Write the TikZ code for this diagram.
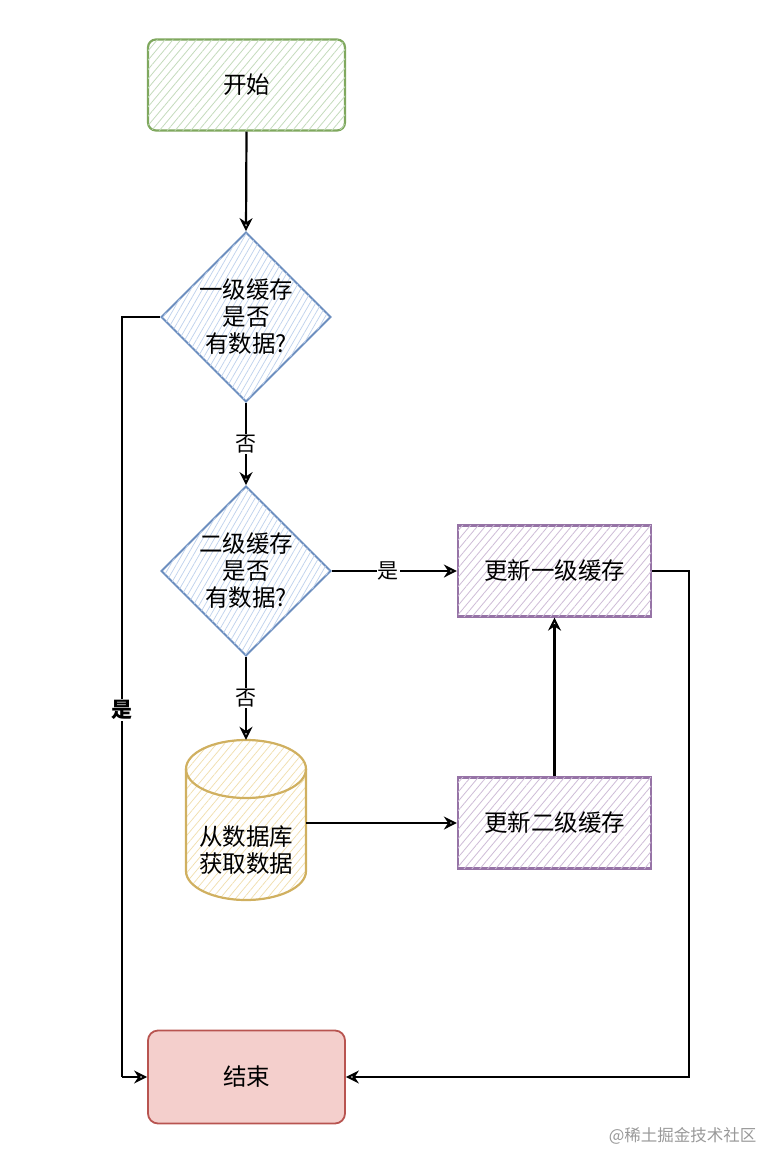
\documentclass[tikz,border=0pt]{standalone}
\usepackage{fontspec}
\setmainfont{Noto Sans CJK SC}
\usetikzlibrary{shapes.geometric, arrows.meta, patterns.meta}
\definecolor{gstroke}{HTML}{7FA85E}
\definecolor{gfill}{HTML}{D5E8D4}
\definecolor{bstroke}{HTML}{6C8EBF}
\definecolor{bfill}{HTML}{DAE8FC}
\definecolor{pstroke}{HTML}{9673A6}
\definecolor{pfill}{HTML}{E1D5E7}
\definecolor{ystroke}{HTML}{D0B060}
\definecolor{yfill}{HTML}{FFF2CC}
\definecolor{rstroke}{HTML}{B85450}
\definecolor{rfill}{HTML}{F4CFCC}
\begin{document}
\begin{tikzpicture}[x=1pt, y=-1pt,
  txt/.style={font=\fontsize{23.5}{27}\selectfont, align=center, text=black},
  boxbase/.style={txt, rectangle, minimum width=197pt, minimum height=91pt, line width=2.2pt, inner sep=0pt},
  startbox/.style={boxbase, draw=gstroke, rounded corners=8pt, fill=white,
     postaction={pattern={Lines[angle=50, distance=6pt, line width=0.8pt]}, pattern color=gfill!80!gstroke}},
  procbox/.style={boxbase, minimum width=193pt, draw=pstroke, fill=white,
     postaction={pattern={Lines[angle=50, distance=6pt, line width=0.8pt]}, pattern color=pfill!75!pstroke}},
  endbox/.style={boxbase, line width=1.8pt, draw=rstroke, rounded corners=10pt, fill=rfill, minimum height=93pt},
  decision/.style={txt, diamond, minimum width=168pt, minimum height=167pt, inner sep=0pt, line width=2pt,
     draw=bstroke, fill=white,
     postaction={pattern={Lines[angle=60, distance=5pt, line width=0.7pt]}, pattern color=bfill!75!bstroke}},
  arr/.style={line width=2.2pt, draw=black, -{Stealth[open, length=13pt, width=13pt, line width=2pt]}},
  lbl/.style={font=\fontsize{21}{23}\selectfont, fill=white, inner sep=1pt, text=black},
  wmark/.style={font=\fontsize{16.5}{18}\selectfont, text=black!40}
]
\useasboundingbox (0,0) rectangle (784,1170);

% nodes
\node[startbox] (start) at (246.5,85) {开始};
\node[decision] (d1) at (246,317) {一级缓存\\是否\\有数据?};
\node[decision] (d2) at (246,571) {二级缓存\\是否\\有数据?};
\node[procbox] (u1) at (554.5,571) {更新一级缓存};
\node[procbox] (u2) at (554.5,823) {更新二级缓存};
\node[endbox] (end) at (246.5,1077) {结束};

% cylinder (database)
\node[rectangle, minimum width=120pt, minimum height=160pt, inner sep=0pt] (db) at (246,820) {};
\path[fill=white, postaction={pattern={Lines[angle=50, distance=6pt, line width=0.7pt]}, pattern color=yfill!70!ystroke}]
  (186,769) -- (186,871) arc[start angle=180, end angle=360, x radius=60pt, y radius=29pt]
  -- (306,769) arc[start angle=0, end angle=180, x radius=60pt, y radius=29pt] -- cycle;
\draw[ystroke, line width=2.2pt]
  (186,769) -- (186,871) arc[start angle=180, end angle=360, x radius=60pt, y radius=29pt]
  -- (306,769) arc[start angle=0, end angle=180, x radius=60pt, y radius=29pt] -- cycle;
\draw[ystroke, line width=2.2pt] (186,769) arc[start angle=180, end angle=360, x radius=60pt, y radius=29pt];
\node[txt] (dbtxt) at (246,850) {从数据库\\获取数据};

% helper coordinates
\coordinate (c1) at (122,317);
\coordinate (c2) at (122,1077);
\coordinate (c3) at (689,571);
\coordinate (c4) at (689,1077);

% connectors
\draw[arr] (start.south) -- (d1.north);
\draw[arr] (d1.south) -- node[lbl]{否} (d2.north);
\draw[arr] (d2.east) -- node[lbl, pos=0.45]{是} (u1.west);
\draw[arr] (d2.south) -- node[lbl]{否} (db.north);
\draw[arr] (db.east |- u2.west) -- (u2.west);
\draw[arr] (u2.north) -- (u1.south);
\draw[arr] (u1.east) -- (c3) -- (c4) -- (end.east);
\draw[line width=2.2pt] (d1.west) -- (c1) -- node[lbl, pos=0.517]{\bfseries 是} (c2);
\draw[arr] (c2) -- (end.west);

% watermark
\node[wmark, anchor=east] (wm) at (760,1136) {@稀土掘金技术社区};
\end{tikzpicture}
\end{document}
